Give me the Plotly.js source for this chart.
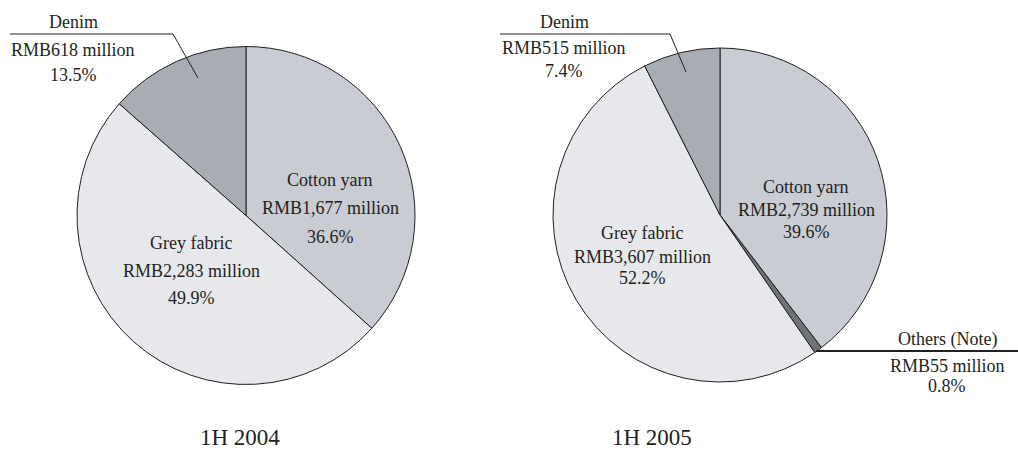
<!DOCTYPE html>
<html>
<head>
<meta charset="utf-8">
<script src="https://cdn.plot.ly/plotly-3.0.1.min.js"></script>
<style>html,body{margin:0;padding:0;background:#fff;}#chart{width:1018px;height:453px;}</style>
</head>
<body>
<div id="chart"></div>
<script>
// ---- data ----
const years = ['1H 2004', '1H 2005'];
const cats2004 = ['Cotton yarn', 'Grey fabric', 'Denim'];
const vals2004 = [1677, 2283, 618];
const pct2004 = [36.6, 49.9, 13.5];
const cats2005 = ['Cotton yarn', 'Others (Note)', 'Grey fabric', 'Denim'];
const vals2005 = [2739, 55, 3607, 515];
const pct2005 = [39.6, 0.8, 52.2, 7.4];

// ---- styles / layout ----
const W = 1018, H = 453;
const FONT = 'Liberation Serif, Times New Roman, serif';
const TXT = '#231f20';
const colorOf = {
  'Cotton yarn': '#c9ccd3',
  'Grey fabric': '#e7e8ec',
  'Denim': '#a8adb4',
  'Others (Note)': '#6f7277'
};
const px = x => x / W;
const py = y => 1 - y / H;

function fmt(v) { return String(v).replace(/\B(?=(\d{3})+(?!\d))/g, ','); }

const pies = [
  {cats: cats2004, vals: vals2004, pct: pct2004, cx: 246, cy: 215.5, r: 169},
  {cats: cats2005, vals: vals2005, pct: pct2005, cx: 720, cy: 215, r: 167}
];

// label placements (pixel) per pie / category: [x, y of line1, y of line2, y of line3]
const labelPos = [
  {'Cotton yarn': [330, 180, 208, 237], 'Grey fabric': [191, 243, 271, 298], 'Denim': [73, 22, 50, 75]},
  {'Cotton yarn': [806, 187, 210, 232], 'Grey fabric': [642, 233, 257, 278], 'Denim': [564, 22, 48, 71],
   'Others (Note)': [947, 339, 366, 386]}
];

const traces = pies.map(p => ({
  type: 'pie',
  values: p.vals,
  labels: p.cats,
  sort: false,
  direction: 'clockwise',
  rotation: 0,
  textinfo: 'none',
  hoverinfo: 'label+value+percent',
  marker: {colors: p.cats.map(c => colorOf[c]), line: {color: TXT, width: 1}},
  domain: {x: [px(p.cx - p.r), px(p.cx + p.r)], y: [py(p.cy + p.r), py(p.cy - p.r)]},
  showlegend: false
}));

const annotations = [];
pies.forEach((p, i) => {
  p.cats.forEach((c, j) => {
    const pos = labelPos[i][c];
    const lines = [c, 'RMB' + fmt(p.vals[j]) + ' million', p.pct[j].toFixed(1) + '%'];
    lines.forEach((t, k) => {
      annotations.push({
        xref: 'paper', yref: 'paper', x: px(pos[0]), y: py(pos[k + 1]),
        xanchor: 'center', yanchor: 'middle', showarrow: false,
        text: t, font: {family: FONT, size: 18, color: TXT}
      });
    });
  });
});
// year titles
const titlePos = [[240, 437], [652, 437]];
years.forEach((y, i) => {
  annotations.push({
    xref: 'paper', yref: 'paper', x: px(titlePos[i][0]), y: py(titlePos[i][1]),
    xanchor: 'center', yanchor: 'middle', showarrow: false,
    text: y, font: {family: FONT, size: 23, color: TXT}
  });
});

// leader lines
function seg(x0, y0, x1, y1, w) {
  return {type: 'line', xref: 'paper', yref: 'paper', x0: px(x0), y0: py(y0), x1: px(x1), y1: py(y1),
          line: {color: TXT, width: w || 1}};
}
const shapes = [
  seg(10, 34, 173, 34), seg(173, 34, 198, 78),
  seg(500, 34, 670, 34), seg(670, 34, 686, 72),
  seg(816, 351, 1018, 351, 2)
];

const layout = {
  width: W, height: H,
  margin: {l: 0, r: 0, t: 0, b: 0},
  paper_bgcolor: '#ffffff',
  plot_bgcolor: '#ffffff',
  showlegend: false,
  annotations: annotations,
  shapes: shapes,
  font: {family: FONT, color: TXT}
};

Plotly.newPlot('chart', traces, layout, {displayModeBar: false, staticPlot: true});
</script>
</body>
</html>
